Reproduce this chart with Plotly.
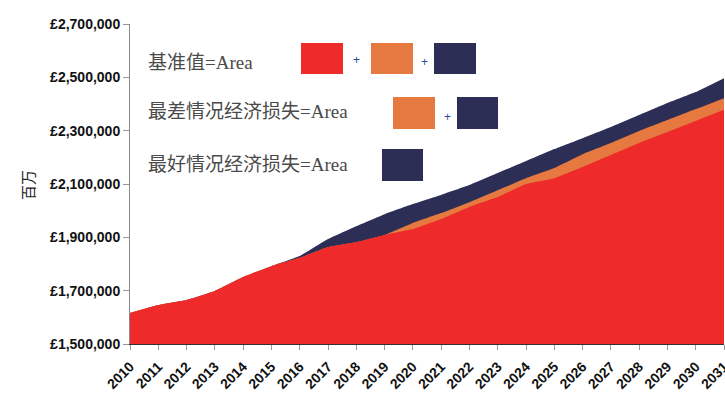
import plotly.graph_objects as go

years = list(range(2010, 2032))
# Top edge of each area (GBP)
actual = [1616000, 1646000, 1665000, 1699000, 1751000, 1792000, 1823000, 1864000,
          1882000, 1909000, 1931000, 1969000, 2014000, 2051000, 2100000, 2122000,
          2164000, 2209000, 2254000, 2295000, 2336000, 2378000]
worst_case = [1616000, 1646000, 1665000, 1699000, 1751000, 1792000, 1823000, 1864000,
              1882000, 1909000, 1954000, 1991000, 2032000, 2077000, 2122000, 2160000,
              2212000, 2254000, 2299000, 2340000, 2381000, 2422000]
baseline = [1616000, 1646000, 1665000, 1699000, 1751000, 1792000, 1830000, 1894000,
            1942000, 1987000, 2025000, 2059000, 2096000, 2141000, 2186000, 2231000,
            2272000, 2314000, 2359000, 2404000, 2445000, 2497000]
y_ticks = [1500000, 1700000, 1900000, 2100000, 2300000, 2500000, 2700000]
y_tick_labels = ["£{:,}".format(v) for v in y_ticks]
legend_rows = ["基准值=Area", "最差情况经济损失=Area", "最好情况经济损失=Area"]

RED = "#EE2A2A"
ORANGE = "#E5793F"
NAVY = "#2D2E56"

fig = go.Figure()
for vals, col in [(baseline, NAVY), (worst_case, ORANGE), (actual, RED)]:
    fig.add_trace(go.Scatter(x=years, y=vals, mode="lines", fill="tozeroy",
                             fillcolor=col, line=dict(width=0, color=col, shape="spline", smoothing=0.3),
                             hoverinfo="skip", showlegend=False))

W, H = 725, 397
L, R, T, B = 130, 1, 24, 53
PW, PH = W - L - R, H - T - B

def px(x):
    return (x - L) / PW

def py(y):
    return (H - B - y) / PH

shapes = []
boxes = [
    (301, 343, 43, 74, RED), (371, 413, 43, 74, ORANGE), (434, 476, 43, 74, NAVY),
    (393, 435, 97, 129, ORANGE), (457, 498, 97, 129, NAVY),
    (382, 423, 149, 181, NAVY),
]
for x0, x1, y0, y1, c in boxes:
    shapes.append(dict(type="rect", xref="paper", yref="paper",
                       x0=px(x0), x1=px(x1), y0=py(y1), y1=py(y0),
                       fillcolor=c, line=dict(width=0), layer="above"))

annotations = []
for txt, yy in zip(legend_rows, [62, 111, 164]):
    annotations.append(dict(text=txt, xref="paper", yref="paper", x=px(146), y=py(yy),
                            xanchor="left", yanchor="middle", showarrow=False,
                            font=dict(family="Liberation Serif, Noto Sans CJK SC", size=19, color="#4a4a4a")))
for xx, yy in [(356, 60), (424, 62), (447, 117)]:
    annotations.append(dict(text="+", xref="paper", yref="paper", x=px(xx), y=py(yy),
                            xanchor="center", yanchor="middle", showarrow=False,
                            font=dict(family="Arial", size=12, color="#2B4C9B")))
annotations.append(dict(text="百万", xref="paper", yref="paper", x=px(27), y=py(185),
                        xanchor="center", yanchor="middle", showarrow=False, textangle=-90,
                        font=dict(family="Noto Sans CJK SC", size=15, color="#222222")))

fig.update_layout(
    width=W, height=H, margin=dict(l=L, r=R, t=T, b=B, autoexpand=False),
    paper_bgcolor="white", plot_bgcolor="white",
    shapes=shapes, annotations=annotations,
    xaxis=dict(range=[2010, 2031], tickmode="array", tickvals=years,
               ticktext=["<b>%s</b>" % y for y in years], tickangle=-45,
               showgrid=False, zeroline=False, showline=True, linecolor="#333",
               linewidth=1, ticks="outside", ticklen=5, tickcolor="#999",
               tickfont=dict(family="Arial", size=14, color="#111"),
               automargin=False, ticklabeloverflow="allow", ticklabelstandoff=3),
    yaxis=dict(range=[1500000, 2700000], tickmode="array", tickvals=y_ticks,
               ticktext=["<b>%s</b>" % t for t in y_tick_labels],
               showgrid=False, zeroline=False, showline=True, linecolor="#888",
               linewidth=1, ticks="outside", ticklen=6, tickcolor="#999",
               tickfont=dict(family="Arial", size=14, color="#111"),
               automargin=False, ticklabeloverflow="allow"),
)
fig.write_html("out.html")
